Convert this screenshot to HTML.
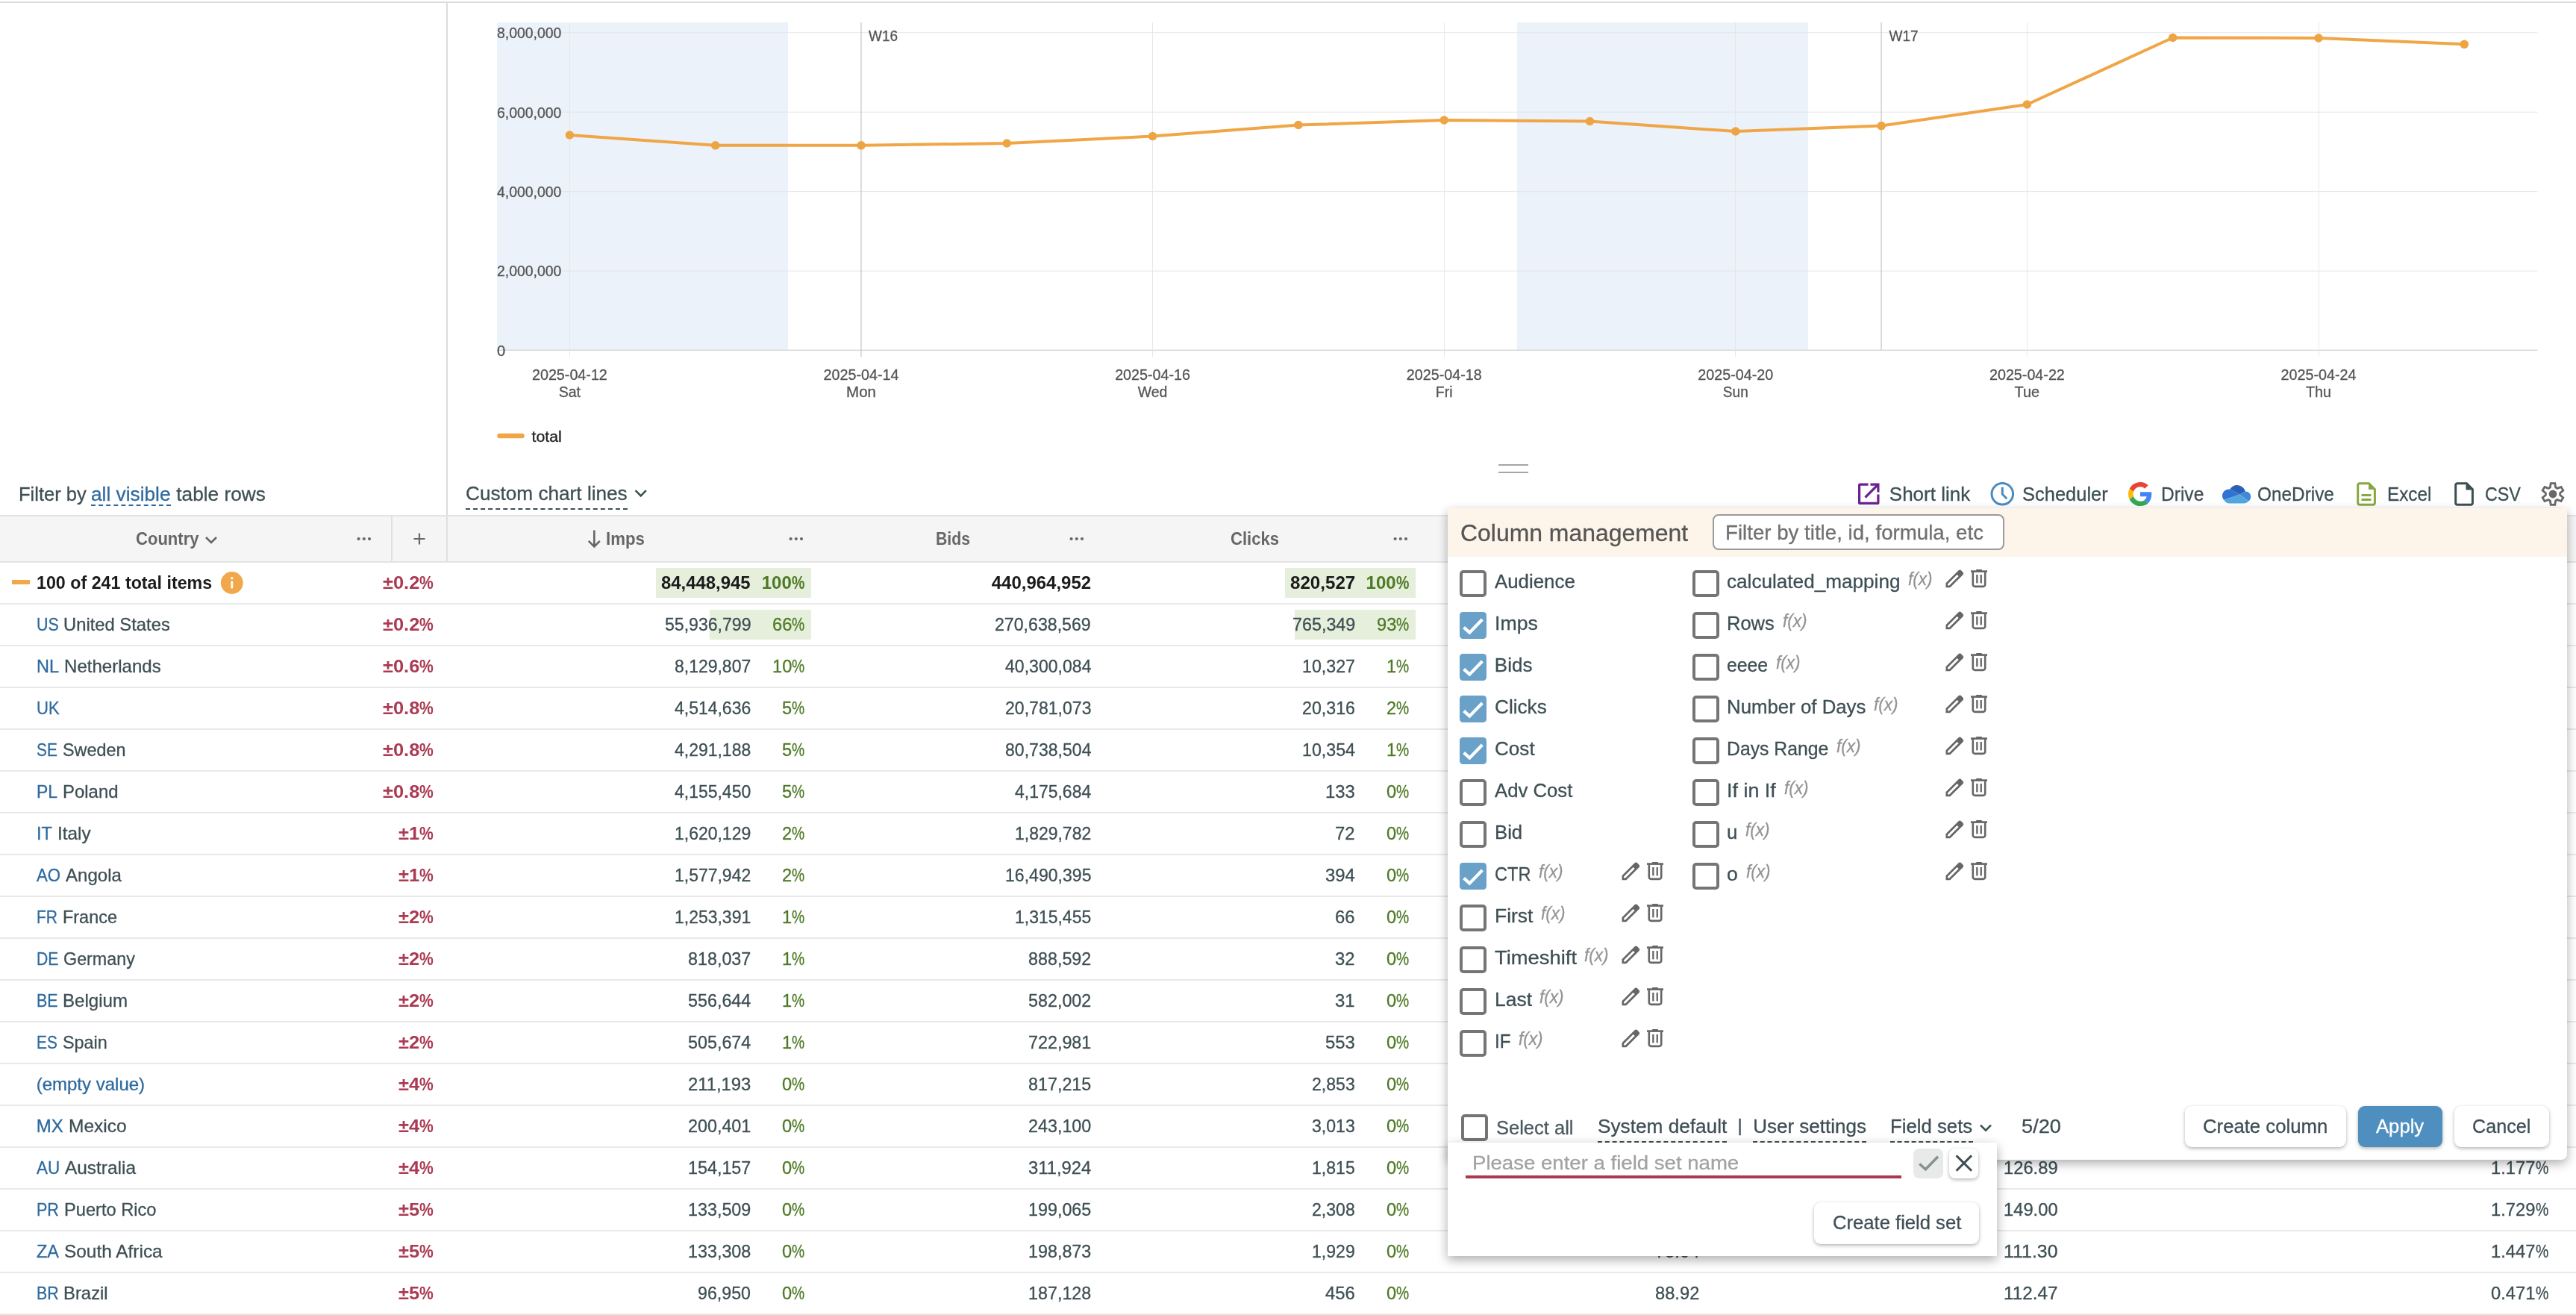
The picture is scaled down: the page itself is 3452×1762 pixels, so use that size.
<!DOCTYPE html>
<html lang="en"><head><meta charset="utf-8"><title>Report</title>
<style>
html,body{margin:0;padding:0;background:#fff}
body{width:3452px;height:1762px;position:relative;overflow:hidden;font-family:"Liberation Sans",sans-serif}
#w{position:absolute;left:0;top:0;width:3452px;height:1762px;will-change:transform}
.abs{position:absolute;display:block;box-sizing:content-box}
.t{position:absolute;white-space:pre;line-height:1;transform-origin:0 50%}
</style></head><body><div id="w">
<svg class="abs" style="left:0;top:0" width="3452" height="640" viewBox="0 0 3452 640" font-family="Liberation Sans, sans-serif">
<rect x="666" y="30" width="390" height="439" fill="#ebf2fa"/>
<rect x="2033" y="30" width="390" height="439" fill="#ebf2fa"/>
<rect x="666" y="43.20" width="2734.5" height="1.1" fill="#e2e5e8" opacity="0.9"/>
<rect x="666" y="149.70" width="2734.5" height="1.1" fill="#e2e5e8" opacity="0.9"/>
<rect x="666" y="256.05" width="2734.5" height="1.1" fill="#e2e5e8" opacity="0.9"/>
<rect x="666" y="362.55" width="2734.5" height="1.1" fill="#e2e5e8" opacity="0.9"/>
<rect x="666" y="468.6" width="2734.5" height="1.3" fill="#d3d4d6"/>
<rect x="763" y="30" width="1" height="448" fill="#e2e5e8" opacity="0.85"/>
<rect x="1544" y="30" width="1" height="448" fill="#e2e5e8" opacity="0.85"/>
<rect x="1935" y="30" width="1" height="448" fill="#e2e5e8" opacity="0.85"/>
<rect x="2325" y="30" width="1" height="448" fill="#e2e5e8" opacity="0.85"/>
<rect x="2716" y="30" width="1" height="448" fill="#e2e5e8" opacity="0.85"/>
<rect x="3107" y="30" width="1" height="448" fill="#e2e5e8" opacity="0.85"/>
<rect x="1153.35" y="30" width="1.2" height="448" fill="#c4c4c4"/>
<rect x="2520.45" y="30" width="1.2" height="439" fill="#c4c4c4"/>
<text x="666" y="51.0" font-size="20" fill="#545556" stroke="#545556" stroke-width="0.3" textLength="86.4" lengthAdjust="spacingAndGlyphs">8,000,000</text>
<text x="666" y="157.6" font-size="20" fill="#545556" stroke="#545556" stroke-width="0.3" textLength="86.4" lengthAdjust="spacingAndGlyphs">6,000,000</text>
<text x="666" y="263.9" font-size="20" fill="#545556" stroke="#545556" stroke-width="0.3" textLength="86.4" lengthAdjust="spacingAndGlyphs">4,000,000</text>
<text x="666" y="370.4" font-size="20" fill="#545556" stroke="#545556" stroke-width="0.3" textLength="86.4" lengthAdjust="spacingAndGlyphs">2,000,000</text>
<text x="666" y="476.6" font-size="20" fill="#545556" stroke="#545556" stroke-width="0.3" textLength="11.2" lengthAdjust="spacingAndGlyphs">0</text>
<text x="763.4" y="508.7" font-size="20" fill="#545556" stroke="#545556" stroke-width="0.3" text-anchor="middle" textLength="100.9" lengthAdjust="spacingAndGlyphs">2025-04-12</text>
<text x="763.4" y="532" font-size="20" fill="#545556" stroke="#545556" stroke-width="0.3" text-anchor="middle" textLength="29.3" lengthAdjust="spacingAndGlyphs">Sat</text>
<text x="1154.0" y="508.7" font-size="20" fill="#545556" stroke="#545556" stroke-width="0.3" text-anchor="middle" textLength="100.9" lengthAdjust="spacingAndGlyphs">2025-04-14</text>
<text x="1154.0" y="532" font-size="20" fill="#545556" stroke="#545556" stroke-width="0.3" text-anchor="middle" textLength="39.9" lengthAdjust="spacingAndGlyphs">Mon</text>
<text x="1544.6" y="508.7" font-size="20" fill="#545556" stroke="#545556" stroke-width="0.3" text-anchor="middle" textLength="100.9" lengthAdjust="spacingAndGlyphs">2025-04-16</text>
<text x="1544.6" y="532" font-size="20" fill="#545556" stroke="#545556" stroke-width="0.3" text-anchor="middle" textLength="39.6" lengthAdjust="spacingAndGlyphs">Wed</text>
<text x="1935.2" y="508.7" font-size="20" fill="#545556" stroke="#545556" stroke-width="0.3" text-anchor="middle" textLength="100.9" lengthAdjust="spacingAndGlyphs">2025-04-18</text>
<text x="1935.2" y="532" font-size="20" fill="#545556" stroke="#545556" stroke-width="0.3" text-anchor="middle" textLength="22.7" lengthAdjust="spacingAndGlyphs">Fri</text>
<text x="2325.8" y="508.7" font-size="20" fill="#545556" stroke="#545556" stroke-width="0.3" text-anchor="middle" textLength="100.9" lengthAdjust="spacingAndGlyphs">2025-04-20</text>
<text x="2325.8" y="532" font-size="20" fill="#545556" stroke="#545556" stroke-width="0.3" text-anchor="middle" textLength="33.9" lengthAdjust="spacingAndGlyphs">Sun</text>
<text x="2716.4" y="508.7" font-size="20" fill="#545556" stroke="#545556" stroke-width="0.3" text-anchor="middle" textLength="100.9" lengthAdjust="spacingAndGlyphs">2025-04-22</text>
<text x="2716.4" y="532" font-size="20" fill="#545556" stroke="#545556" stroke-width="0.3" text-anchor="middle" textLength="33.6" lengthAdjust="spacingAndGlyphs">Tue</text>
<text x="3107.0" y="508.7" font-size="20" fill="#545556" stroke="#545556" stroke-width="0.3" text-anchor="middle" textLength="100.9" lengthAdjust="spacingAndGlyphs">2025-04-24</text>
<text x="3107.0" y="532" font-size="20" fill="#545556" stroke="#545556" stroke-width="0.3" text-anchor="middle" textLength="34.0" lengthAdjust="spacingAndGlyphs">Thu</text>
<text x="1164" y="54.6" font-size="20" fill="#545556" stroke="#545556" stroke-width="0.3" textLength="39" lengthAdjust="spacingAndGlyphs">W16</text>
<text x="2531.5" y="54.6" font-size="20" fill="#545556" stroke="#545556" stroke-width="0.3" textLength="39" lengthAdjust="spacingAndGlyphs">W17</text>
<polyline fill="none" stroke="#f0a646" stroke-width="4" stroke-linejoin="round" stroke-linecap="round" points="763.4,181.0 958.7,194.8 1154.0,194.8 1349.3,192.0 1544.6,182.5 1739.9,167.5 1935.2,161.0 2130.5,162.5 2325.8,176.0 2521.1,168.6 2716.4,140.0 2911.7,50.5 3107.0,51.0 3302.3,59.3"/>
<circle cx="763.4" cy="181.0" r="5.8" fill="#eda544"/>
<circle cx="958.7" cy="194.8" r="5.8" fill="#eda544"/>
<circle cx="1154.0" cy="194.8" r="5.8" fill="#eda544"/>
<circle cx="1349.3" cy="192.0" r="5.8" fill="#eda544"/>
<circle cx="1544.6" cy="182.5" r="5.8" fill="#eda544"/>
<circle cx="1739.9" cy="167.5" r="5.8" fill="#eda544"/>
<circle cx="1935.2" cy="161.0" r="5.8" fill="#eda544"/>
<circle cx="2130.5" cy="162.5" r="5.8" fill="#eda544"/>
<circle cx="2325.8" cy="176.0" r="5.8" fill="#eda544"/>
<circle cx="2521.1" cy="168.6" r="5.8" fill="#eda544"/>
<circle cx="2716.4" cy="140.0" r="5.8" fill="#eda544"/>
<circle cx="2911.7" cy="50.5" r="5.8" fill="#eda544"/>
<circle cx="3107.0" cy="51.0" r="5.8" fill="#eda544"/>
<circle cx="3302.3" cy="59.3" r="5.8" fill="#eda544"/>
<line x1="669.5" y1="584" x2="699.5" y2="584" stroke="#f0a646" stroke-width="6.5" stroke-linecap="round"/>
<text x="712.5" y="591.6" font-size="20" fill="#222" stroke="#222" stroke-width="0.3" textLength="40.2" lengthAdjust="spacingAndGlyphs">total</text>
<rect x="2008" y="622.2" width="40" height="1.6" fill="#8f8f8f"/><rect x="2008" y="632.2" width="40" height="1.6" fill="#8f8f8f"/>
</svg>
<div class="abs" style="left:0;top:2px;width:3452px;height:2px;background:#dcdcdd"></div>
<div class="abs" style="left:598px;top:4px;width:2px;height:687px;background:#dcdcdd"></div>
<div class="t" style="left:24.50px;top:649.19px;font-size:26px;color:#3e4f54;-webkit-text-stroke:0.3px;transform:scaleX(0.9815);">Filter by </div>
<div class="t" style="left:122.34px;top:649.19px;font-size:26px;color:#2e6a9e;-webkit-text-stroke:0.3px;transform:scaleX(1.0099);">all visible</div>
<div class="abs" style="left:122.3px;top:676px;width:106.5px;height:0;border-top:2px dashed #2e6a9e"></div>
<div class="t" style="left:228.88px;top:649.19px;font-size:26px;color:#3e4f54;-webkit-text-stroke:0.3px;transform:scaleX(1.0082);"> table rows</div>
<div class="t" style="left:624.30px;top:647.79px;font-size:26px;color:#3e4f54;-webkit-text-stroke:0.3px;transform:scaleX(1.0065);">Custom chart lines</div>
<div class="abs" style="left:624.3px;top:680.5px;width:216.7px;height:0;border-top:2px dashed #3e4f54"></div>
<svg class="abs" style="left:849px;top:652px" width="20" height="18" viewBox="0 0 20 18"><path d="M2.6 5.2 L9.7 12.3 L16.8 5.2" fill="none" stroke="#3e4f54" stroke-width="2.6"/></svg>
<div class="t" style="left:2531.80px;top:648.79px;font-size:26px;color:#3e4f54;-webkit-text-stroke:0.3px;">Short link</div>
<div class="t" style="left:2710.30px;top:648.79px;font-size:26px;color:#3e4f54;-webkit-text-stroke:0.3px;transform:scaleX(0.9797);">Scheduler</div>
<div class="t" style="left:2895.70px;top:648.79px;font-size:26px;color:#3e4f54;-webkit-text-stroke:0.3px;transform:scaleX(0.9444);">Drive</div>
<div class="t" style="left:3024.60px;top:648.79px;font-size:26px;color:#3e4f54;-webkit-text-stroke:0.3px;transform:scaleX(0.9370);">OneDrive</div>
<div class="t" style="left:3199.00px;top:648.79px;font-size:26px;color:#3e4f54;-webkit-text-stroke:0.3px;transform:scaleX(0.9327);">Excel</div>
<div class="t" style="left:3329.80px;top:648.79px;font-size:26px;color:#3e4f54;-webkit-text-stroke:0.3px;transform:scaleX(0.8960);">CSV</div>
<svg class="abs" style="left:2488px;top:645px" width="34" height="34" viewBox="0 0 34 34"><path d="M15.5 4.1 H4.6 a1 1 0 0 0 -1 1 V28.4 a1 1 0 0 0 1 1 H27.9 a1 1 0 0 0 1 -1 V17.5" fill="none" stroke="#6b2394" stroke-width="3.2"/><path d="M11.5 21.5 L28.6 4.4 M18.5 4.1 H28.9 V14.5" fill="none" stroke="#6b2394" stroke-width="3.2"/></svg>
<svg class="abs" style="left:2665px;top:643px" width="37" height="37" viewBox="0 0 37 37"><circle cx="18.3" cy="18.8" r="14.3" fill="none" stroke="#4a8cc0" stroke-width="3"/><path d="M18.3 9.8 V19.2 L24.3 25.2" fill="none" stroke="#4a8cc0" stroke-width="3"/></svg>
<svg class="abs" style="left:2852px;top:646px" width="32" height="32" viewBox="0 0 48 48"><path fill="#EA4335" d="M24 9.5c3.54 0 6.71 1.22 9.21 3.6l6.85-6.85C35.9 2.38 30.47 0 24 0 14.62 0 6.51 5.38 2.56 13.22l7.98 6.19C12.43 13.72 17.74 9.5 24 9.5z"/><path fill="#4285F4" d="M46.98 24.55c0-1.57-.15-3.09-.38-4.55H24v9.02h12.94c-.58 2.96-2.26 5.48-4.78 7.18l7.73 6c4.51-4.18 7.09-10.36 7.09-17.65z"/><path fill="#FBBC05" d="M10.53 28.59c-.48-1.45-.76-2.99-.76-4.59s.27-3.14.76-4.59l-7.98-6.19C.92 16.46 0 20.12 0 24c0 3.88.92 7.54 2.56 10.78l7.97-6.19z"/><path fill="#34A853" d="M24 48c6.48 0 11.93-2.13 15.89-5.81l-7.73-6c-2.15 1.45-4.92 2.3-8.16 2.3-6.26 0-11.57-4.22-13.47-9.91l-7.98 6.19C6.51 42.62 14.62 48 24 48z"/></svg>
<svg class="abs" style="left:2977.6px;top:649.6px" width="39" height="25" viewBox="0 0 39 25"><path d="M10.2 5.6 C12.5 2 16 0 19.6 0 C25 0 29.5 3.5 30.8 8.6 L23.3 12.6 Z" fill="#2a60b5"/><path d="M10.2 5.6 C4.5 5.0 0.2 9.0 0 14.0 C-0.1 16.2 0.7 18.3 2.2 19.9 L23.3 12.4 L10.2 5.6 Z" fill="#2f74d0"/><path d="M30.8 8.6 C34.8 8.3 38.2 11.5 38.2 15.5 C38.2 18 37 20.2 35.2 21.6 L23.3 12.4 Z" fill="#3f8ad8"/><path d="M2.2 19.9 L23.3 12.4 L35.2 21.6 C33.8 23.4 31.8 24.4 29.5 24.4 H9.5 C6.5 24.4 3.8 22.6 2.2 19.9 Z" fill="#52a5e0"/></svg>
<svg class="abs" style="left:3157px;top:645px" width="28" height="34" viewBox="0 0 28 34"><path d="M5 2.7 H17.5 L25.4 10.6 V29 a2.3 2.3 0 0 1 -2.3 2.3 H5 a2.3 2.3 0 0 1 -2.3 -2.3 V5 a2.3 2.3 0 0 1 2.3 -2.3 Z" fill="none" stroke="#86a840" stroke-width="3"/><path d="M17 2 V11 H26 Z" fill="#86a840"/><rect x="7.5" y="17" width="13" height="3" fill="#86a840"/><rect x="7.5" y="23" width="13" height="3" fill="#86a840"/></svg>
<svg class="abs" style="left:3288px;top:645px" width="28" height="34" viewBox="0 0 28 34"><path d="M5 2.7 H17.5 L25.4 10.6 V29 a2.3 2.3 0 0 1 -2.3 2.3 H5 a2.3 2.3 0 0 1 -2.3 -2.3 V5 a2.3 2.3 0 0 1 2.3 -2.3 Z" fill="none" stroke="#3e4f54" stroke-width="3"/><path d="M16.5 2 V11.5 H26 Z" fill="#3e4f54"/></svg>
<svg class="abs" style="left:3404px;top:645px" width="34" height="34" viewBox="0 0 34 34"><path d="M13.37 8.01 L14.21 2.67 L19.79 2.67 L20.63 8.01 L22.97 9.36 L28.02 7.42 L30.80 12.25 L26.61 15.65 L26.61 18.35 L30.80 21.75 L28.02 26.58 L22.97 24.64 L20.63 25.99 L19.79 31.33 L14.21 31.33 L13.37 25.99 L11.03 24.64 L5.98 26.58 L3.20 21.75 L7.39 18.35 L7.39 15.65 L3.20 12.25 L5.98 7.42 L11.03 9.36 Z" fill="none" stroke="#686868" stroke-width="2.8" stroke-linejoin="miter"/><circle cx="17" cy="17" r="5.4" fill="#686868"/></svg>
<div class="abs" style="left:0;top:690px;width:3452px;height:60px;background:#f5f5f5;border-top:2px solid #e3e3e3;border-bottom:2px solid #e3e3e3"></div>
<div class="abs" style="left:524px;top:692px;width:2px;height:60px;background:#e0e0e0"></div>
<div class="abs" style="left:598px;top:692px;width:2px;height:60px;background:#e0e0e0"></div>
<div class="t" style="left:181.80px;top:710.18px;font-size:24px;color:#666;font-weight:700;transform:scaleX(0.9185);">Country</div>
<div class="t" style="left:811.80px;top:710.18px;font-size:24px;color:#666;font-weight:700;transform:scaleX(0.9247);">Imps</div>
<div class="t" style="left:1253.60px;top:710.18px;font-size:24px;color:#666;font-weight:700;transform:scaleX(0.8845);">Bids</div>
<div class="t" style="left:1649.00px;top:710.18px;font-size:24px;color:#666;font-weight:700;transform:scaleX(0.9192);">Clicks</div>
<svg class="abs" style="left:478.4px;top:718px" width="24" height="8" viewBox="0 0 24 8"><circle cx="2.6" cy="4" r="2.1" fill="#666"/><circle cx="9.8" cy="4" r="2.1" fill="#666"/><circle cx="17" cy="4" r="2.1" fill="#666"/></svg>
<svg class="abs" style="left:1056.6px;top:718px" width="24" height="8" viewBox="0 0 24 8"><circle cx="2.6" cy="4" r="2.1" fill="#666"/><circle cx="9.8" cy="4" r="2.1" fill="#666"/><circle cx="17" cy="4" r="2.1" fill="#666"/></svg>
<svg class="abs" style="left:1432.6px;top:718px" width="24" height="8" viewBox="0 0 24 8"><circle cx="2.6" cy="4" r="2.1" fill="#666"/><circle cx="9.8" cy="4" r="2.1" fill="#666"/><circle cx="17" cy="4" r="2.1" fill="#666"/></svg>
<svg class="abs" style="left:1867px;top:718px" width="24" height="8" viewBox="0 0 24 8"><circle cx="2.6" cy="4" r="2.1" fill="#666"/><circle cx="9.8" cy="4" r="2.1" fill="#666"/><circle cx="17" cy="4" r="2.1" fill="#666"/></svg>
<svg class="abs" style="left:273px;top:714px" width="20" height="18" viewBox="0 0 20 18"><path d="M3 6 L10 13 L17 6" fill="none" stroke="#666" stroke-width="2.6"/></svg>
<svg class="abs" style="left:552px;top:712px" width="20" height="20" viewBox="0 0 20 20"><path d="M10 2.5 V17.5 M2.5 10 H17.5" fill="none" stroke="#666" stroke-width="2.2"/></svg>
<svg class="abs" style="left:786px;top:708px" width="20" height="28" viewBox="0 0 20 28"><path d="M10.3 2.5 V24 M2.8 16.8 L10.3 24.3 L17.8 16.8" fill="none" stroke="#666" stroke-width="2.6"/></svg>
<div class="abs" style="left:0;top:808px;width:3452px;height:2px;background:#e9e9ea"></div>
<div class="abs" style="left:16px;top:777px;width:24px;height:6px;background:#f0a84a"></div>
<div class="t" style="left:48.70px;top:768.98px;font-size:24px;color:#1b1b1b;font-weight:700;transform:scaleX(0.9688);">100 of 241 total items</div>
<svg class="abs" style="left:295px;top:765px" width="32" height="32" viewBox="0 0 32 32"><circle cx="15.8" cy="16" r="14.9" fill="#f0a84a"/><circle cx="15.8" cy="9.7" r="1.65" fill="#fff"/><rect x="14.4" y="13.6" width="2.8" height="9.8" fill="#fff"/></svg>
<div class="abs" style="left:879px;top:761px;width:208px;height:39.5px;background:#e6eedc"></div>
<div class="abs" style="left:1722px;top:761px;width:175px;height:39.5px;background:#e6eedc"></div>
<div class="t" style="left:512.87px;top:768.98px;font-size:24px;color:#ab3a52;font-weight:700;transform:scaleX(1.0601);">±0.2</div>
<div class="t" style="left:562.20px;top:768.98px;font-size:24px;color:#ab3a52;font-weight:700;transform:scaleX(0.8809);">%</div>
<div class="t" style="left:886.44px;top:768.98px;font-size:24px;color:#1b1b1b;font-weight:700;transform:scaleX(0.9953);">84,448,945</div>
<div class="t" style="left:1020.78px;top:768.98px;font-size:24px;color:#4e7a25;font-weight:700;">100</div>
<div class="t" style="left:1060.81px;top:768.98px;font-size:24px;color:#4e7a25;font-weight:700;transform:scaleX(0.8150);">%</div>
<div class="t" style="left:1328.69px;top:768.98px;font-size:24px;color:#1b1b1b;font-weight:700;">440,964,952</div>
<div class="t" style="left:1728.73px;top:768.98px;font-size:24px;color:#1b1b1b;font-weight:700;transform:scaleX(1.0059);">820,527</div>
<div class="t" style="left:1830.58px;top:768.98px;font-size:24px;color:#4e7a25;font-weight:700;">100</div>
<div class="t" style="left:1870.61px;top:768.98px;font-size:24px;color:#4e7a25;font-weight:700;transform:scaleX(0.8150);">%</div>
<div class="abs" style="left:0;top:864px;width:3452px;height:2px;background:#e9e9ea"></div>
<div class="t" style="left:48.70px;top:824.98px;font-size:24px;color:#2e6a9e;-webkit-text-stroke:0.3px;transform:scaleX(0.8933);">US</div>
<div class="t" style="left:85.43px;top:824.98px;font-size:24px;color:#3e4f54;-webkit-text-stroke:0.3px;transform:scaleX(0.9909);">United States</div>
<div class="abs" style="left:951px;top:817px;width:136px;height:39.5px;background:#e6eedc"></div>
<div class="abs" style="left:1735px;top:817px;width:162px;height:39.5px;background:#e6eedc"></div>
<div class="t" style="left:512.87px;top:824.98px;font-size:24px;color:#ab3a52;font-weight:700;transform:scaleX(1.0601);">±0.2</div>
<div class="t" style="left:562.20px;top:824.98px;font-size:24px;color:#ab3a52;font-weight:700;transform:scaleX(0.8809);">%</div>
<div class="t" style="left:890.54px;top:824.98px;font-size:24px;color:#3e4f54;-webkit-text-stroke:0.3px;transform:scaleX(0.9612);">55,936,799</div>
<div class="t" style="left:1034.79px;top:824.98px;font-size:24px;color:#4e7a25;-webkit-text-stroke:0.3px;transform:scaleX(0.9843);">66</div>
<div class="t" style="left:1061.07px;top:824.98px;font-size:24px;color:#4e7a25;-webkit-text-stroke:0.3px;transform:scaleX(0.8027);">%</div>
<div class="t" style="left:1333.27px;top:824.98px;font-size:24px;color:#3e4f54;-webkit-text-stroke:0.3px;transform:scaleX(0.9645);">270,638,569</div>
<div class="t" style="left:1731.72px;top:824.98px;font-size:24px;color:#3e4f54;-webkit-text-stroke:0.3px;transform:scaleX(0.9714);">765,349</div>
<div class="t" style="left:1844.59px;top:824.98px;font-size:24px;color:#4e7a25;-webkit-text-stroke:0.3px;transform:scaleX(0.9843);">93</div>
<div class="t" style="left:1870.87px;top:824.98px;font-size:24px;color:#4e7a25;-webkit-text-stroke:0.3px;transform:scaleX(0.8027);">%</div>
<div class="abs" style="left:0;top:920px;width:3452px;height:2px;background:#e9e9ea"></div>
<div class="t" style="left:48.70px;top:880.98px;font-size:24px;color:#2e6a9e;-webkit-text-stroke:0.3px;transform:scaleX(0.9786);">NL</div>
<div class="t" style="left:85.67px;top:880.98px;font-size:24px;color:#3e4f54;-webkit-text-stroke:0.3px;transform:scaleX(1.0029);">Netherlands</div>
<div class="t" style="left:512.87px;top:880.98px;font-size:24px;color:#ab3a52;font-weight:700;transform:scaleX(1.0601);">±0.6</div>
<div class="t" style="left:562.20px;top:880.98px;font-size:24px;color:#ab3a52;font-weight:700;transform:scaleX(0.8809);">%</div>
<div class="t" style="left:903.82px;top:880.98px;font-size:24px;color:#3e4f54;-webkit-text-stroke:0.3px;transform:scaleX(0.9570);">8,129,807</div>
<div class="t" style="left:1034.79px;top:880.98px;font-size:24px;color:#4e7a25;-webkit-text-stroke:0.3px;transform:scaleX(0.9843);">10</div>
<div class="t" style="left:1061.07px;top:880.98px;font-size:24px;color:#4e7a25;-webkit-text-stroke:0.3px;transform:scaleX(0.8027);">%</div>
<div class="t" style="left:1346.54px;top:880.98px;font-size:24px;color:#3e4f54;-webkit-text-stroke:0.3px;transform:scaleX(0.9612);">40,300,084</div>
<div class="t" style="left:1745.00px;top:880.98px;font-size:24px;color:#3e4f54;-webkit-text-stroke:0.3px;transform:scaleX(0.9672);">10,327</div>
<div class="t" style="left:1857.73px;top:880.98px;font-size:24px;color:#4e7a25;-webkit-text-stroke:0.3px;transform:scaleX(0.9843);">1</div>
<div class="t" style="left:1870.87px;top:880.98px;font-size:24px;color:#4e7a25;-webkit-text-stroke:0.3px;transform:scaleX(0.8027);">%</div>
<div class="abs" style="left:0;top:976px;width:3452px;height:2px;background:#e9e9ea"></div>
<div class="t" style="left:48.70px;top:936.98px;font-size:24px;color:#2e6a9e;-webkit-text-stroke:0.3px;transform:scaleX(0.9178);">UK</div>
<div class="t" style="left:512.87px;top:936.98px;font-size:24px;color:#ab3a52;font-weight:700;transform:scaleX(1.0601);">±0.8</div>
<div class="t" style="left:562.20px;top:936.98px;font-size:24px;color:#ab3a52;font-weight:700;transform:scaleX(0.8809);">%</div>
<div class="t" style="left:903.82px;top:936.98px;font-size:24px;color:#3e4f54;-webkit-text-stroke:0.3px;transform:scaleX(0.9570);">4,514,636</div>
<div class="t" style="left:1047.93px;top:936.98px;font-size:24px;color:#4e7a25;-webkit-text-stroke:0.3px;transform:scaleX(0.9843);">5</div>
<div class="t" style="left:1061.07px;top:936.98px;font-size:24px;color:#4e7a25;-webkit-text-stroke:0.3px;transform:scaleX(0.8027);">%</div>
<div class="t" style="left:1346.54px;top:936.98px;font-size:24px;color:#3e4f54;-webkit-text-stroke:0.3px;transform:scaleX(0.9612);">20,781,073</div>
<div class="t" style="left:1745.00px;top:936.98px;font-size:24px;color:#3e4f54;-webkit-text-stroke:0.3px;transform:scaleX(0.9672);">20,316</div>
<div class="t" style="left:1857.73px;top:936.98px;font-size:24px;color:#4e7a25;-webkit-text-stroke:0.3px;transform:scaleX(0.9843);">2</div>
<div class="t" style="left:1870.87px;top:936.98px;font-size:24px;color:#4e7a25;-webkit-text-stroke:0.3px;transform:scaleX(0.8027);">%</div>
<div class="abs" style="left:0;top:1032px;width:3452px;height:2px;background:#e9e9ea"></div>
<div class="t" style="left:48.70px;top:992.98px;font-size:24px;color:#2e6a9e;-webkit-text-stroke:0.3px;transform:scaleX(0.8703);">SE</div>
<div class="t" style="left:83.51px;top:992.98px;font-size:24px;color:#3e4f54;-webkit-text-stroke:0.3px;transform:scaleX(0.9740);">Sweden</div>
<div class="t" style="left:512.87px;top:992.98px;font-size:24px;color:#ab3a52;font-weight:700;transform:scaleX(1.0601);">±0.8</div>
<div class="t" style="left:562.20px;top:992.98px;font-size:24px;color:#ab3a52;font-weight:700;transform:scaleX(0.8809);">%</div>
<div class="t" style="left:903.82px;top:992.98px;font-size:24px;color:#3e4f54;-webkit-text-stroke:0.3px;transform:scaleX(0.9570);">4,291,188</div>
<div class="t" style="left:1047.93px;top:992.98px;font-size:24px;color:#4e7a25;-webkit-text-stroke:0.3px;transform:scaleX(0.9843);">5</div>
<div class="t" style="left:1061.07px;top:992.98px;font-size:24px;color:#4e7a25;-webkit-text-stroke:0.3px;transform:scaleX(0.8027);">%</div>
<div class="t" style="left:1346.54px;top:992.98px;font-size:24px;color:#3e4f54;-webkit-text-stroke:0.3px;transform:scaleX(0.9612);">80,738,504</div>
<div class="t" style="left:1745.00px;top:992.98px;font-size:24px;color:#3e4f54;-webkit-text-stroke:0.3px;transform:scaleX(0.9672);">10,354</div>
<div class="t" style="left:1857.73px;top:992.98px;font-size:24px;color:#4e7a25;-webkit-text-stroke:0.3px;transform:scaleX(0.9843);">1</div>
<div class="t" style="left:1870.87px;top:992.98px;font-size:24px;color:#4e7a25;-webkit-text-stroke:0.3px;transform:scaleX(0.8027);">%</div>
<div class="abs" style="left:0;top:1088px;width:3452px;height:2px;background:#e9e9ea"></div>
<div class="t" style="left:48.70px;top:1048.98px;font-size:24px;color:#2e6a9e;-webkit-text-stroke:0.3px;transform:scaleX(0.9557);">PL</div>
<div class="t" style="left:83.70px;top:1048.98px;font-size:24px;color:#3e4f54;-webkit-text-stroke:0.3px;transform:scaleX(0.9968);">Poland</div>
<div class="t" style="left:512.87px;top:1048.98px;font-size:24px;color:#ab3a52;font-weight:700;transform:scaleX(1.0601);">±0.8</div>
<div class="t" style="left:562.20px;top:1048.98px;font-size:24px;color:#ab3a52;font-weight:700;transform:scaleX(0.8809);">%</div>
<div class="t" style="left:903.82px;top:1048.98px;font-size:24px;color:#3e4f54;-webkit-text-stroke:0.3px;transform:scaleX(0.9570);">4,155,450</div>
<div class="t" style="left:1047.93px;top:1048.98px;font-size:24px;color:#4e7a25;-webkit-text-stroke:0.3px;transform:scaleX(0.9843);">5</div>
<div class="t" style="left:1061.07px;top:1048.98px;font-size:24px;color:#4e7a25;-webkit-text-stroke:0.3px;transform:scaleX(0.8027);">%</div>
<div class="t" style="left:1359.82px;top:1048.98px;font-size:24px;color:#3e4f54;-webkit-text-stroke:0.3px;transform:scaleX(0.9570);">4,175,684</div>
<div class="t" style="left:1776.18px;top:1048.98px;font-size:24px;color:#3e4f54;-webkit-text-stroke:0.3px;transform:scaleX(0.9944);">133</div>
<div class="t" style="left:1857.73px;top:1048.98px;font-size:24px;color:#4e7a25;-webkit-text-stroke:0.3px;transform:scaleX(0.9843);">0</div>
<div class="t" style="left:1870.87px;top:1048.98px;font-size:24px;color:#4e7a25;-webkit-text-stroke:0.3px;transform:scaleX(0.8027);">%</div>
<div class="abs" style="left:0;top:1144px;width:3452px;height:2px;background:#e9e9ea"></div>
<div class="t" style="left:48.70px;top:1104.98px;font-size:24px;color:#2e6a9e;-webkit-text-stroke:0.3px;transform:scaleX(0.9779);">IT</div>
<div class="t" style="left:76.50px;top:1104.98px;font-size:24px;color:#3e4f54;-webkit-text-stroke:0.3px;transform:scaleX(1.0136);">Italy</div>
<div class="t" style="left:534.04px;top:1104.98px;font-size:24px;color:#ab3a52;font-weight:700;transform:scaleX(1.0618);">±1</div>
<div class="t" style="left:562.20px;top:1104.98px;font-size:24px;color:#ab3a52;font-weight:700;transform:scaleX(0.8809);">%</div>
<div class="t" style="left:903.82px;top:1104.98px;font-size:24px;color:#3e4f54;-webkit-text-stroke:0.3px;transform:scaleX(0.9570);">1,620,129</div>
<div class="t" style="left:1047.93px;top:1104.98px;font-size:24px;color:#4e7a25;-webkit-text-stroke:0.3px;transform:scaleX(0.9843);">2</div>
<div class="t" style="left:1061.07px;top:1104.98px;font-size:24px;color:#4e7a25;-webkit-text-stroke:0.3px;transform:scaleX(0.8027);">%</div>
<div class="t" style="left:1359.82px;top:1104.98px;font-size:24px;color:#3e4f54;-webkit-text-stroke:0.3px;transform:scaleX(0.9570);">1,829,782</div>
<div class="t" style="left:1789.45px;top:1104.98px;font-size:24px;color:#3e4f54;-webkit-text-stroke:0.3px;transform:scaleX(0.9944);">72</div>
<div class="t" style="left:1857.73px;top:1104.98px;font-size:24px;color:#4e7a25;-webkit-text-stroke:0.3px;transform:scaleX(0.9843);">0</div>
<div class="t" style="left:1870.87px;top:1104.98px;font-size:24px;color:#4e7a25;-webkit-text-stroke:0.3px;transform:scaleX(0.8027);">%</div>
<div class="abs" style="left:0;top:1200px;width:3452px;height:2px;background:#e9e9ea"></div>
<div class="t" style="left:48.70px;top:1160.98px;font-size:24px;color:#2e6a9e;-webkit-text-stroke:0.3px;transform:scaleX(0.9271);">AO</div>
<div class="t" style="left:87.79px;top:1160.98px;font-size:24px;color:#3e4f54;-webkit-text-stroke:0.3px;transform:scaleX(1.0026);">Angola</div>
<div class="t" style="left:534.04px;top:1160.98px;font-size:24px;color:#ab3a52;font-weight:700;transform:scaleX(1.0618);">±1</div>
<div class="t" style="left:562.20px;top:1160.98px;font-size:24px;color:#ab3a52;font-weight:700;transform:scaleX(0.8809);">%</div>
<div class="t" style="left:903.82px;top:1160.98px;font-size:24px;color:#3e4f54;-webkit-text-stroke:0.3px;transform:scaleX(0.9570);">1,577,942</div>
<div class="t" style="left:1047.93px;top:1160.98px;font-size:24px;color:#4e7a25;-webkit-text-stroke:0.3px;transform:scaleX(0.9843);">2</div>
<div class="t" style="left:1061.07px;top:1160.98px;font-size:24px;color:#4e7a25;-webkit-text-stroke:0.3px;transform:scaleX(0.8027);">%</div>
<div class="t" style="left:1346.54px;top:1160.98px;font-size:24px;color:#3e4f54;-webkit-text-stroke:0.3px;transform:scaleX(0.9612);">16,490,395</div>
<div class="t" style="left:1776.18px;top:1160.98px;font-size:24px;color:#3e4f54;-webkit-text-stroke:0.3px;transform:scaleX(0.9944);">394</div>
<div class="t" style="left:1857.73px;top:1160.98px;font-size:24px;color:#4e7a25;-webkit-text-stroke:0.3px;transform:scaleX(0.9843);">0</div>
<div class="t" style="left:1870.87px;top:1160.98px;font-size:24px;color:#4e7a25;-webkit-text-stroke:0.3px;transform:scaleX(0.8027);">%</div>
<div class="abs" style="left:0;top:1256px;width:3452px;height:2px;background:#e9e9ea"></div>
<div class="t" style="left:48.70px;top:1216.98px;font-size:24px;color:#2e6a9e;-webkit-text-stroke:0.3px;transform:scaleX(0.8769);">FR</div>
<div class="t" style="left:83.70px;top:1216.98px;font-size:24px;color:#3e4f54;-webkit-text-stroke:0.3px;transform:scaleX(0.9767);">France</div>
<div class="t" style="left:534.04px;top:1216.98px;font-size:24px;color:#ab3a52;font-weight:700;transform:scaleX(1.0618);">±2</div>
<div class="t" style="left:562.20px;top:1216.98px;font-size:24px;color:#ab3a52;font-weight:700;transform:scaleX(0.8809);">%</div>
<div class="t" style="left:903.82px;top:1216.98px;font-size:24px;color:#3e4f54;-webkit-text-stroke:0.3px;transform:scaleX(0.9570);">1,253,391</div>
<div class="t" style="left:1047.93px;top:1216.98px;font-size:24px;color:#4e7a25;-webkit-text-stroke:0.3px;transform:scaleX(0.9843);">1</div>
<div class="t" style="left:1061.07px;top:1216.98px;font-size:24px;color:#4e7a25;-webkit-text-stroke:0.3px;transform:scaleX(0.8027);">%</div>
<div class="t" style="left:1359.82px;top:1216.98px;font-size:24px;color:#3e4f54;-webkit-text-stroke:0.3px;transform:scaleX(0.9570);">1,315,455</div>
<div class="t" style="left:1789.45px;top:1216.98px;font-size:24px;color:#3e4f54;-webkit-text-stroke:0.3px;transform:scaleX(0.9944);">66</div>
<div class="t" style="left:1857.73px;top:1216.98px;font-size:24px;color:#4e7a25;-webkit-text-stroke:0.3px;transform:scaleX(0.9843);">0</div>
<div class="t" style="left:1870.87px;top:1216.98px;font-size:24px;color:#4e7a25;-webkit-text-stroke:0.3px;transform:scaleX(0.8027);">%</div>
<div class="abs" style="left:0;top:1312px;width:3452px;height:2px;background:#e9e9ea"></div>
<div class="t" style="left:48.70px;top:1272.98px;font-size:24px;color:#2e6a9e;-webkit-text-stroke:0.3px;transform:scaleX(0.8811);">DE</div>
<div class="t" style="left:85.02px;top:1272.98px;font-size:24px;color:#3e4f54;-webkit-text-stroke:0.3px;transform:scaleX(0.9712);">Germany</div>
<div class="t" style="left:534.04px;top:1272.98px;font-size:24px;color:#ab3a52;font-weight:700;transform:scaleX(1.0618);">±2</div>
<div class="t" style="left:562.20px;top:1272.98px;font-size:24px;color:#ab3a52;font-weight:700;transform:scaleX(0.8809);">%</div>
<div class="t" style="left:921.72px;top:1272.98px;font-size:24px;color:#3e4f54;-webkit-text-stroke:0.3px;transform:scaleX(0.9714);">818,037</div>
<div class="t" style="left:1047.93px;top:1272.98px;font-size:24px;color:#4e7a25;-webkit-text-stroke:0.3px;transform:scaleX(0.9843);">1</div>
<div class="t" style="left:1061.07px;top:1272.98px;font-size:24px;color:#4e7a25;-webkit-text-stroke:0.3px;transform:scaleX(0.8027);">%</div>
<div class="t" style="left:1377.72px;top:1272.98px;font-size:24px;color:#3e4f54;-webkit-text-stroke:0.3px;transform:scaleX(0.9714);">888,592</div>
<div class="t" style="left:1789.45px;top:1272.98px;font-size:24px;color:#3e4f54;-webkit-text-stroke:0.3px;transform:scaleX(0.9944);">32</div>
<div class="t" style="left:1857.73px;top:1272.98px;font-size:24px;color:#4e7a25;-webkit-text-stroke:0.3px;transform:scaleX(0.9843);">0</div>
<div class="t" style="left:1870.87px;top:1272.98px;font-size:24px;color:#4e7a25;-webkit-text-stroke:0.3px;transform:scaleX(0.8027);">%</div>
<div class="abs" style="left:0;top:1368px;width:3452px;height:2px;background:#e9e9ea"></div>
<div class="t" style="left:48.70px;top:1328.98px;font-size:24px;color:#2e6a9e;-webkit-text-stroke:0.3px;transform:scaleX(0.8925);">BE</div>
<div class="t" style="left:84.22px;top:1328.98px;font-size:24px;color:#3e4f54;-webkit-text-stroke:0.3px;transform:scaleX(1.0038);">Belgium</div>
<div class="t" style="left:534.04px;top:1328.98px;font-size:24px;color:#ab3a52;font-weight:700;transform:scaleX(1.0618);">±2</div>
<div class="t" style="left:562.20px;top:1328.98px;font-size:24px;color:#ab3a52;font-weight:700;transform:scaleX(0.8809);">%</div>
<div class="t" style="left:921.72px;top:1328.98px;font-size:24px;color:#3e4f54;-webkit-text-stroke:0.3px;transform:scaleX(0.9714);">556,644</div>
<div class="t" style="left:1047.93px;top:1328.98px;font-size:24px;color:#4e7a25;-webkit-text-stroke:0.3px;transform:scaleX(0.9843);">1</div>
<div class="t" style="left:1061.07px;top:1328.98px;font-size:24px;color:#4e7a25;-webkit-text-stroke:0.3px;transform:scaleX(0.8027);">%</div>
<div class="t" style="left:1377.72px;top:1328.98px;font-size:24px;color:#3e4f54;-webkit-text-stroke:0.3px;transform:scaleX(0.9714);">582,002</div>
<div class="t" style="left:1789.45px;top:1328.98px;font-size:24px;color:#3e4f54;-webkit-text-stroke:0.3px;transform:scaleX(0.9944);">31</div>
<div class="t" style="left:1857.73px;top:1328.98px;font-size:24px;color:#4e7a25;-webkit-text-stroke:0.3px;transform:scaleX(0.9843);">0</div>
<div class="t" style="left:1870.87px;top:1328.98px;font-size:24px;color:#4e7a25;-webkit-text-stroke:0.3px;transform:scaleX(0.8027);">%</div>
<div class="abs" style="left:0;top:1424px;width:3452px;height:2px;background:#e9e9ea"></div>
<div class="t" style="left:48.70px;top:1384.98px;font-size:24px;color:#2e6a9e;-webkit-text-stroke:0.3px;transform:scaleX(0.8703);">ES</div>
<div class="t" style="left:83.51px;top:1384.98px;font-size:24px;color:#3e4f54;-webkit-text-stroke:0.3px;transform:scaleX(0.9747);">Spain</div>
<div class="t" style="left:534.04px;top:1384.98px;font-size:24px;color:#ab3a52;font-weight:700;transform:scaleX(1.0618);">±2</div>
<div class="t" style="left:562.20px;top:1384.98px;font-size:24px;color:#ab3a52;font-weight:700;transform:scaleX(0.8809);">%</div>
<div class="t" style="left:921.72px;top:1384.98px;font-size:24px;color:#3e4f54;-webkit-text-stroke:0.3px;transform:scaleX(0.9714);">505,674</div>
<div class="t" style="left:1047.93px;top:1384.98px;font-size:24px;color:#4e7a25;-webkit-text-stroke:0.3px;transform:scaleX(0.9843);">1</div>
<div class="t" style="left:1061.07px;top:1384.98px;font-size:24px;color:#4e7a25;-webkit-text-stroke:0.3px;transform:scaleX(0.8027);">%</div>
<div class="t" style="left:1377.72px;top:1384.98px;font-size:24px;color:#3e4f54;-webkit-text-stroke:0.3px;transform:scaleX(0.9714);">722,981</div>
<div class="t" style="left:1776.18px;top:1384.98px;font-size:24px;color:#3e4f54;-webkit-text-stroke:0.3px;transform:scaleX(0.9944);">553</div>
<div class="t" style="left:1857.73px;top:1384.98px;font-size:24px;color:#4e7a25;-webkit-text-stroke:0.3px;transform:scaleX(0.9843);">0</div>
<div class="t" style="left:1870.87px;top:1384.98px;font-size:24px;color:#4e7a25;-webkit-text-stroke:0.3px;transform:scaleX(0.8027);">%</div>
<div class="abs" style="left:0;top:1480px;width:3452px;height:2px;background:#e9e9ea"></div>
<div class="t" style="left:48.70px;top:1440.98px;font-size:24px;color:#2e6a9e;-webkit-text-stroke:0.3px;">(empty value)</div>
<div class="t" style="left:534.04px;top:1440.98px;font-size:24px;color:#ab3a52;font-weight:700;transform:scaleX(1.0618);">±4</div>
<div class="t" style="left:562.20px;top:1440.98px;font-size:24px;color:#ab3a52;font-weight:700;transform:scaleX(0.8809);">%</div>
<div class="t" style="left:921.72px;top:1440.98px;font-size:24px;color:#3e4f54;-webkit-text-stroke:0.3px;transform:scaleX(0.9918);">211,193</div>
<div class="t" style="left:1047.93px;top:1440.98px;font-size:24px;color:#4e7a25;-webkit-text-stroke:0.3px;transform:scaleX(0.9843);">0</div>
<div class="t" style="left:1061.07px;top:1440.98px;font-size:24px;color:#4e7a25;-webkit-text-stroke:0.3px;transform:scaleX(0.8027);">%</div>
<div class="t" style="left:1377.72px;top:1440.98px;font-size:24px;color:#3e4f54;-webkit-text-stroke:0.3px;transform:scaleX(0.9714);">817,215</div>
<div class="t" style="left:1758.27px;top:1440.98px;font-size:24px;color:#3e4f54;-webkit-text-stroke:0.3px;transform:scaleX(0.9612);">2,853</div>
<div class="t" style="left:1857.73px;top:1440.98px;font-size:24px;color:#4e7a25;-webkit-text-stroke:0.3px;transform:scaleX(0.9843);">0</div>
<div class="t" style="left:1870.87px;top:1440.98px;font-size:24px;color:#4e7a25;-webkit-text-stroke:0.3px;transform:scaleX(0.8027);">%</div>
<div class="abs" style="left:0;top:1536px;width:3452px;height:2px;background:#e9e9ea"></div>
<div class="t" style="left:48.70px;top:1496.98px;font-size:24px;color:#2e6a9e;-webkit-text-stroke:0.3px;">MX</div>
<div class="t" style="left:91.64px;top:1496.98px;font-size:24px;color:#3e4f54;-webkit-text-stroke:0.3px;transform:scaleX(1.0213);">Mexico</div>
<div class="t" style="left:534.04px;top:1496.98px;font-size:24px;color:#ab3a52;font-weight:700;transform:scaleX(1.0618);">±4</div>
<div class="t" style="left:562.20px;top:1496.98px;font-size:24px;color:#ab3a52;font-weight:700;transform:scaleX(0.8809);">%</div>
<div class="t" style="left:921.72px;top:1496.98px;font-size:24px;color:#3e4f54;-webkit-text-stroke:0.3px;transform:scaleX(0.9714);">200,401</div>
<div class="t" style="left:1047.93px;top:1496.98px;font-size:24px;color:#4e7a25;-webkit-text-stroke:0.3px;transform:scaleX(0.9843);">0</div>
<div class="t" style="left:1061.07px;top:1496.98px;font-size:24px;color:#4e7a25;-webkit-text-stroke:0.3px;transform:scaleX(0.8027);">%</div>
<div class="t" style="left:1377.72px;top:1496.98px;font-size:24px;color:#3e4f54;-webkit-text-stroke:0.3px;transform:scaleX(0.9714);">243,100</div>
<div class="t" style="left:1758.27px;top:1496.98px;font-size:24px;color:#3e4f54;-webkit-text-stroke:0.3px;transform:scaleX(0.9612);">3,013</div>
<div class="t" style="left:1857.73px;top:1496.98px;font-size:24px;color:#4e7a25;-webkit-text-stroke:0.3px;transform:scaleX(0.9843);">0</div>
<div class="t" style="left:1870.87px;top:1496.98px;font-size:24px;color:#4e7a25;-webkit-text-stroke:0.3px;transform:scaleX(0.8027);">%</div>
<div class="abs" style="left:0;top:1592px;width:3452px;height:2px;background:#e9e9ea"></div>
<div class="t" style="left:48.70px;top:1552.98px;font-size:24px;color:#2e6a9e;-webkit-text-stroke:0.3px;transform:scaleX(0.9358);">AU</div>
<div class="t" style="left:86.84px;top:1552.98px;font-size:24px;color:#3e4f54;-webkit-text-stroke:0.3px;transform:scaleX(1.0173);">Australia</div>
<div class="t" style="left:534.04px;top:1552.98px;font-size:24px;color:#ab3a52;font-weight:700;transform:scaleX(1.0618);">±4</div>
<div class="t" style="left:562.20px;top:1552.98px;font-size:24px;color:#ab3a52;font-weight:700;transform:scaleX(0.8809);">%</div>
<div class="t" style="left:921.72px;top:1552.98px;font-size:24px;color:#3e4f54;-webkit-text-stroke:0.3px;transform:scaleX(0.9714);">154,157</div>
<div class="t" style="left:1047.93px;top:1552.98px;font-size:24px;color:#4e7a25;-webkit-text-stroke:0.3px;transform:scaleX(0.9843);">0</div>
<div class="t" style="left:1061.07px;top:1552.98px;font-size:24px;color:#4e7a25;-webkit-text-stroke:0.3px;transform:scaleX(0.8027);">%</div>
<div class="t" style="left:1377.72px;top:1552.98px;font-size:24px;color:#3e4f54;-webkit-text-stroke:0.3px;transform:scaleX(0.9918);">311,924</div>
<div class="t" style="left:1758.27px;top:1552.98px;font-size:24px;color:#3e4f54;-webkit-text-stroke:0.3px;transform:scaleX(0.9612);">1,815</div>
<div class="t" style="left:1857.73px;top:1552.98px;font-size:24px;color:#4e7a25;-webkit-text-stroke:0.3px;transform:scaleX(0.9843);">0</div>
<div class="t" style="left:1870.87px;top:1552.98px;font-size:24px;color:#4e7a25;-webkit-text-stroke:0.3px;transform:scaleX(0.8027);">%</div>
<div class="t" style="left:2684.81px;top:1552.98px;font-size:24px;color:#3e4f54;-webkit-text-stroke:0.3px;transform:scaleX(0.9888);">126.89</div>
<div class="t" style="left:3338.38px;top:1552.98px;font-size:24px;color:#3e4f54;-webkit-text-stroke:0.3px;transform:scaleX(0.9876);">1.177</div>
<div class="t" style="left:3397.70px;top:1552.98px;font-size:24px;color:#3e4f54;-webkit-text-stroke:0.3px;transform:scaleX(0.8109);">%</div>
<div class="abs" style="left:0;top:1648px;width:3452px;height:2px;background:#e9e9ea"></div>
<div class="t" style="left:48.70px;top:1608.98px;font-size:24px;color:#2e6a9e;-webkit-text-stroke:0.3px;transform:scaleX(0.8976);">PR</div>
<div class="t" style="left:85.57px;top:1608.98px;font-size:24px;color:#3e4f54;-webkit-text-stroke:0.3px;transform:scaleX(0.9850);">Puerto Rico</div>
<div class="t" style="left:534.04px;top:1608.98px;font-size:24px;color:#ab3a52;font-weight:700;transform:scaleX(1.0618);">±5</div>
<div class="t" style="left:562.20px;top:1608.98px;font-size:24px;color:#ab3a52;font-weight:700;transform:scaleX(0.8809);">%</div>
<div class="t" style="left:921.72px;top:1608.98px;font-size:24px;color:#3e4f54;-webkit-text-stroke:0.3px;transform:scaleX(0.9714);">133,509</div>
<div class="t" style="left:1047.93px;top:1608.98px;font-size:24px;color:#4e7a25;-webkit-text-stroke:0.3px;transform:scaleX(0.9843);">0</div>
<div class="t" style="left:1061.07px;top:1608.98px;font-size:24px;color:#4e7a25;-webkit-text-stroke:0.3px;transform:scaleX(0.8027);">%</div>
<div class="t" style="left:1377.72px;top:1608.98px;font-size:24px;color:#3e4f54;-webkit-text-stroke:0.3px;transform:scaleX(0.9714);">199,065</div>
<div class="t" style="left:1758.27px;top:1608.98px;font-size:24px;color:#3e4f54;-webkit-text-stroke:0.3px;transform:scaleX(0.9612);">2,308</div>
<div class="t" style="left:1857.73px;top:1608.98px;font-size:24px;color:#4e7a25;-webkit-text-stroke:0.3px;transform:scaleX(0.9843);">0</div>
<div class="t" style="left:1870.87px;top:1608.98px;font-size:24px;color:#4e7a25;-webkit-text-stroke:0.3px;transform:scaleX(0.8027);">%</div>
<div class="t" style="left:2684.81px;top:1608.98px;font-size:24px;color:#3e4f54;-webkit-text-stroke:0.3px;transform:scaleX(0.9888);">149.00</div>
<div class="t" style="left:3338.38px;top:1608.98px;font-size:24px;color:#3e4f54;-webkit-text-stroke:0.3px;transform:scaleX(0.9876);">1.729</div>
<div class="t" style="left:3397.70px;top:1608.98px;font-size:24px;color:#3e4f54;-webkit-text-stroke:0.3px;transform:scaleX(0.8109);">%</div>
<div class="abs" style="left:0;top:1704px;width:3452px;height:2px;background:#e9e9ea"></div>
<div class="t" style="left:48.70px;top:1664.98px;font-size:24px;color:#2e6a9e;-webkit-text-stroke:0.3px;transform:scaleX(0.9790);">ZA</div>
<div class="t" style="left:85.67px;top:1664.98px;font-size:24px;color:#3e4f54;-webkit-text-stroke:0.3px;transform:scaleX(1.0175);">South Africa</div>
<div class="t" style="left:534.04px;top:1664.98px;font-size:24px;color:#ab3a52;font-weight:700;transform:scaleX(1.0618);">±5</div>
<div class="t" style="left:562.20px;top:1664.98px;font-size:24px;color:#ab3a52;font-weight:700;transform:scaleX(0.8809);">%</div>
<div class="t" style="left:921.72px;top:1664.98px;font-size:24px;color:#3e4f54;-webkit-text-stroke:0.3px;transform:scaleX(0.9714);">133,308</div>
<div class="t" style="left:1047.93px;top:1664.98px;font-size:24px;color:#4e7a25;-webkit-text-stroke:0.3px;transform:scaleX(0.9843);">0</div>
<div class="t" style="left:1061.07px;top:1664.98px;font-size:24px;color:#4e7a25;-webkit-text-stroke:0.3px;transform:scaleX(0.8027);">%</div>
<div class="t" style="left:1377.72px;top:1664.98px;font-size:24px;color:#3e4f54;-webkit-text-stroke:0.3px;transform:scaleX(0.9714);">198,873</div>
<div class="t" style="left:1758.27px;top:1664.98px;font-size:24px;color:#3e4f54;-webkit-text-stroke:0.3px;transform:scaleX(0.9612);">1,929</div>
<div class="t" style="left:1857.73px;top:1664.98px;font-size:24px;color:#4e7a25;-webkit-text-stroke:0.3px;transform:scaleX(0.9843);">0</div>
<div class="t" style="left:1870.87px;top:1664.98px;font-size:24px;color:#4e7a25;-webkit-text-stroke:0.3px;transform:scaleX(0.8027);">%</div>
<div class="t" style="left:2684.81px;top:1664.98px;font-size:24px;color:#3e4f54;-webkit-text-stroke:0.3px;transform:scaleX(1.0392);">111.30</div>
<div class="t" style="left:3338.38px;top:1664.98px;font-size:24px;color:#3e4f54;-webkit-text-stroke:0.3px;transform:scaleX(0.9876);">1.447</div>
<div class="t" style="left:3397.70px;top:1664.98px;font-size:24px;color:#3e4f54;-webkit-text-stroke:0.3px;transform:scaleX(0.8109);">%</div>
<div class="t" style="left:2217.69px;top:1664.98px;font-size:24px;color:#3e4f54;-webkit-text-stroke:0.3px;transform:scaleX(0.9876);">75.04</div>
<div class="abs" style="left:0;top:1760px;width:3452px;height:2px;background:#e9e9ea"></div>
<div class="t" style="left:48.70px;top:1720.98px;font-size:24px;color:#2e6a9e;-webkit-text-stroke:0.3px;transform:scaleX(0.8916);">BR</div>
<div class="t" style="left:85.37px;top:1720.98px;font-size:24px;color:#3e4f54;-webkit-text-stroke:0.3px;transform:scaleX(0.9944);">Brazil</div>
<div class="t" style="left:534.04px;top:1720.98px;font-size:24px;color:#ab3a52;font-weight:700;transform:scaleX(1.0618);">±5</div>
<div class="t" style="left:562.20px;top:1720.98px;font-size:24px;color:#ab3a52;font-weight:700;transform:scaleX(0.8809);">%</div>
<div class="t" style="left:935.00px;top:1720.98px;font-size:24px;color:#3e4f54;-webkit-text-stroke:0.3px;transform:scaleX(0.9672);">96,950</div>
<div class="t" style="left:1047.93px;top:1720.98px;font-size:24px;color:#4e7a25;-webkit-text-stroke:0.3px;transform:scaleX(0.9843);">0</div>
<div class="t" style="left:1061.07px;top:1720.98px;font-size:24px;color:#4e7a25;-webkit-text-stroke:0.3px;transform:scaleX(0.8027);">%</div>
<div class="t" style="left:1377.72px;top:1720.98px;font-size:24px;color:#3e4f54;-webkit-text-stroke:0.3px;transform:scaleX(0.9714);">187,128</div>
<div class="t" style="left:1776.18px;top:1720.98px;font-size:24px;color:#3e4f54;-webkit-text-stroke:0.3px;transform:scaleX(0.9944);">456</div>
<div class="t" style="left:1857.73px;top:1720.98px;font-size:24px;color:#4e7a25;-webkit-text-stroke:0.3px;transform:scaleX(0.9843);">0</div>
<div class="t" style="left:1870.87px;top:1720.98px;font-size:24px;color:#4e7a25;-webkit-text-stroke:0.3px;transform:scaleX(0.8027);">%</div>
<div class="t" style="left:2684.81px;top:1720.98px;font-size:24px;color:#3e4f54;-webkit-text-stroke:0.3px;transform:scaleX(1.0134);">112.47</div>
<div class="t" style="left:3338.38px;top:1720.98px;font-size:24px;color:#3e4f54;-webkit-text-stroke:0.3px;transform:scaleX(0.9876);">0.471</div>
<div class="t" style="left:3397.70px;top:1720.98px;font-size:24px;color:#3e4f54;-webkit-text-stroke:0.3px;transform:scaleX(0.8109);">%</div>
<div class="t" style="left:2217.69px;top:1720.98px;font-size:24px;color:#3e4f54;-webkit-text-stroke:0.3px;transform:scaleX(0.9876);">88.92</div>
<div class="abs" style="left:1940px;top:681px;width:1500px;height:872.5px;background:#fff;box-shadow:0 5px 14px rgba(0,0,0,.32);border-radius:2px 2px 8px 8px"></div>
<div class="abs" style="left:1940px;top:681px;width:1500px;height:64.7px;background:#fdf5ea;border-radius:2px 2px 0 0"></div>
<div class="t" style="left:1956.80px;top:697.71px;font-size:32px;color:#555;-webkit-text-stroke:0.3px;transform:scaleX(0.9976);">Column management</div>
<div class="abs" style="left:2295.4px;top:689.2px;width:387px;height:44.2px;border:2px solid #9a9a9a;border-radius:8px;background:#fff"></div>
<div class="t" style="left:2312.00px;top:699.50px;font-size:28px;color:#707070;-webkit-text-stroke:0.3px;transform:scaleX(0.9883);">Filter by title, id, formula, etc</div>
<div class="abs" style="left:1956px;top:764px;width:28px;height:28px;border:4px solid #757575;border-radius:5px;background:#fff"></div>
<div class="t" style="left:2002.80px;top:765.89px;font-size:26px;color:#3e4f54;-webkit-text-stroke:0.3px;transform:scaleX(0.9940);">Audience</div>
<svg class="abs" style="left:1956px;top:820px" width="36" height="36" viewBox="0 0 36 36"><rect x="0" y="0" width="36" height="36" rx="4.5" fill="#6aa1c8"/><path d="M5.6 20.6 L13.3 27.6 L30.4 10" fill="none" stroke="#fff" stroke-width="4.2"/></svg>
<div class="t" style="left:2002.80px;top:821.89px;font-size:26px;color:#3e4f54;-webkit-text-stroke:0.3px;transform:scaleX(1.0268);">Imps</div>
<svg class="abs" style="left:1956px;top:876px" width="36" height="36" viewBox="0 0 36 36"><rect x="0" y="0" width="36" height="36" rx="4.5" fill="#6aa1c8"/><path d="M5.6 20.6 L13.3 27.6 L30.4 10" fill="none" stroke="#fff" stroke-width="4.2"/></svg>
<div class="t" style="left:2002.80px;top:877.89px;font-size:26px;color:#3e4f54;-webkit-text-stroke:0.3px;">Bids</div>
<svg class="abs" style="left:1956px;top:932px" width="36" height="36" viewBox="0 0 36 36"><rect x="0" y="0" width="36" height="36" rx="4.5" fill="#6aa1c8"/><path d="M5.6 20.6 L13.3 27.6 L30.4 10" fill="none" stroke="#fff" stroke-width="4.2"/></svg>
<div class="t" style="left:2002.80px;top:933.89px;font-size:26px;color:#3e4f54;-webkit-text-stroke:0.3px;transform:scaleX(1.0062);">Clicks</div>
<svg class="abs" style="left:1956px;top:988px" width="36" height="36" viewBox="0 0 36 36"><rect x="0" y="0" width="36" height="36" rx="4.5" fill="#6aa1c8"/><path d="M5.6 20.6 L13.3 27.6 L30.4 10" fill="none" stroke="#fff" stroke-width="4.2"/></svg>
<div class="t" style="left:2002.80px;top:989.89px;font-size:26px;color:#3e4f54;-webkit-text-stroke:0.3px;transform:scaleX(1.0038);">Cost</div>
<div class="abs" style="left:1956px;top:1044px;width:28px;height:28px;border:4px solid #757575;border-radius:5px;background:#fff"></div>
<div class="t" style="left:2002.80px;top:1045.89px;font-size:26px;color:#3e4f54;-webkit-text-stroke:0.3px;transform:scaleX(0.9888);">Adv Cost</div>
<div class="abs" style="left:1956px;top:1100px;width:28px;height:28px;border:4px solid #757575;border-radius:5px;background:#fff"></div>
<div class="t" style="left:2002.80px;top:1101.89px;font-size:26px;color:#3e4f54;-webkit-text-stroke:0.3px;transform:scaleX(0.9891);">Bid</div>
<svg class="abs" style="left:1956px;top:1156px" width="36" height="36" viewBox="0 0 36 36"><rect x="0" y="0" width="36" height="36" rx="4.5" fill="#6aa1c8"/><path d="M5.6 20.6 L13.3 27.6 L30.4 10" fill="none" stroke="#fff" stroke-width="4.2"/></svg>
<div class="t" style="left:2002.80px;top:1157.89px;font-size:26px;color:#3e4f54;-webkit-text-stroke:0.3px;transform:scaleX(0.9070);">CTR</div>
<div class="t" style="left:2061.86px;top:1157.41px;font-size:23.5px;color:#939393;font-style:italic;-webkit-text-stroke:0.3px;transform:scaleX(0.9608);">f(x)</div>
<svg class="abs" style="left:2172.6px;top:1154.9px" width="26" height="26" viewBox="0 0 26 26"><path fill-rule="evenodd" fill="#666" d="M0.5 18.3 L17.3 1.5 Q19.3 -0.5 21.3 1.5 L23.2 3.4 Q25.2 5.4 23.2 7.4 L6.3 24.2 L0.5 24.2 Z M3.1 19.4 L15.54 6.94 L17.7 9.1 L5.22 21.6 L3.1 21.6 Z"/></svg>
<svg class="abs" style="left:2206.6px;top:1155.0px" width="22" height="25" viewBox="0 0 22 25"><rect x="7.2" y="0" width="7.6" height="2.4" fill="#666"/><rect x="0" y="1.3" width="22" height="2.6" fill="#666"/><path d="M2.8 3.5 V20.3 a2.6 2.6 0 0 0 2.6 2.6 H16.6 a2.6 2.6 0 0 0 2.6 -2.6 V3.5" fill="none" stroke="#666" stroke-width="2.6"/><rect x="7.2" y="7" width="2.3" height="11.4" fill="#666"/><rect x="12.6" y="7" width="2.3" height="11.4" fill="#666"/></svg>
<div class="abs" style="left:1956px;top:1212px;width:28px;height:28px;border:4px solid #757575;border-radius:5px;background:#fff"></div>
<div class="t" style="left:2002.80px;top:1213.89px;font-size:26px;color:#3e4f54;-webkit-text-stroke:0.3px;transform:scaleX(1.0170);">First</div>
<div class="t" style="left:2064.80px;top:1213.41px;font-size:23.5px;color:#939393;font-style:italic;-webkit-text-stroke:0.3px;transform:scaleX(0.9608);">f(x)</div>
<svg class="abs" style="left:2172.6px;top:1210.9px" width="26" height="26" viewBox="0 0 26 26"><path fill-rule="evenodd" fill="#666" d="M0.5 18.3 L17.3 1.5 Q19.3 -0.5 21.3 1.5 L23.2 3.4 Q25.2 5.4 23.2 7.4 L6.3 24.2 L0.5 24.2 Z M3.1 19.4 L15.54 6.94 L17.7 9.1 L5.22 21.6 L3.1 21.6 Z"/></svg>
<svg class="abs" style="left:2206.6px;top:1211.0px" width="22" height="25" viewBox="0 0 22 25"><rect x="7.2" y="0" width="7.6" height="2.4" fill="#666"/><rect x="0" y="1.3" width="22" height="2.6" fill="#666"/><path d="M2.8 3.5 V20.3 a2.6 2.6 0 0 0 2.6 2.6 H16.6 a2.6 2.6 0 0 0 2.6 -2.6 V3.5" fill="none" stroke="#666" stroke-width="2.6"/><rect x="7.2" y="7" width="2.3" height="11.4" fill="#666"/><rect x="12.6" y="7" width="2.3" height="11.4" fill="#666"/></svg>
<div class="abs" style="left:1956px;top:1268px;width:28px;height:28px;border:4px solid #757575;border-radius:5px;background:#fff"></div>
<div class="t" style="left:2002.80px;top:1269.89px;font-size:26px;color:#3e4f54;-webkit-text-stroke:0.3px;transform:scaleX(1.0525);">Timeshift</div>
<div class="t" style="left:2123.38px;top:1269.41px;font-size:23.5px;color:#939393;font-style:italic;-webkit-text-stroke:0.3px;transform:scaleX(0.9608);">f(x)</div>
<svg class="abs" style="left:2172.6px;top:1266.9px" width="26" height="26" viewBox="0 0 26 26"><path fill-rule="evenodd" fill="#666" d="M0.5 18.3 L17.3 1.5 Q19.3 -0.5 21.3 1.5 L23.2 3.4 Q25.2 5.4 23.2 7.4 L6.3 24.2 L0.5 24.2 Z M3.1 19.4 L15.54 6.94 L17.7 9.1 L5.22 21.6 L3.1 21.6 Z"/></svg>
<svg class="abs" style="left:2206.6px;top:1267.0px" width="22" height="25" viewBox="0 0 22 25"><rect x="7.2" y="0" width="7.6" height="2.4" fill="#666"/><rect x="0" y="1.3" width="22" height="2.6" fill="#666"/><path d="M2.8 3.5 V20.3 a2.6 2.6 0 0 0 2.6 2.6 H16.6 a2.6 2.6 0 0 0 2.6 -2.6 V3.5" fill="none" stroke="#666" stroke-width="2.6"/><rect x="7.2" y="7" width="2.3" height="11.4" fill="#666"/><rect x="12.6" y="7" width="2.3" height="11.4" fill="#666"/></svg>
<div class="abs" style="left:1956px;top:1324px;width:28px;height:28px;border:4px solid #757575;border-radius:5px;background:#fff"></div>
<div class="t" style="left:2002.80px;top:1325.89px;font-size:26px;color:#3e4f54;-webkit-text-stroke:0.3px;transform:scaleX(1.0184);">Last</div>
<div class="t" style="left:2063.45px;top:1325.41px;font-size:23.5px;color:#939393;font-style:italic;-webkit-text-stroke:0.3px;transform:scaleX(0.9608);">f(x)</div>
<svg class="abs" style="left:2172.6px;top:1322.9px" width="26" height="26" viewBox="0 0 26 26"><path fill-rule="evenodd" fill="#666" d="M0.5 18.3 L17.3 1.5 Q19.3 -0.5 21.3 1.5 L23.2 3.4 Q25.2 5.4 23.2 7.4 L6.3 24.2 L0.5 24.2 Z M3.1 19.4 L15.54 6.94 L17.7 9.1 L5.22 21.6 L3.1 21.6 Z"/></svg>
<svg class="abs" style="left:2206.6px;top:1323.0px" width="22" height="25" viewBox="0 0 22 25"><rect x="7.2" y="0" width="7.6" height="2.4" fill="#666"/><rect x="0" y="1.3" width="22" height="2.6" fill="#666"/><path d="M2.8 3.5 V20.3 a2.6 2.6 0 0 0 2.6 2.6 H16.6 a2.6 2.6 0 0 0 2.6 -2.6 V3.5" fill="none" stroke="#666" stroke-width="2.6"/><rect x="7.2" y="7" width="2.3" height="11.4" fill="#666"/><rect x="12.6" y="7" width="2.3" height="11.4" fill="#666"/></svg>
<div class="abs" style="left:1956px;top:1380px;width:28px;height:28px;border:4px solid #757575;border-radius:5px;background:#fff"></div>
<div class="t" style="left:2002.80px;top:1381.89px;font-size:26px;color:#3e4f54;-webkit-text-stroke:0.3px;transform:scaleX(0.9284);">IF</div>
<div class="t" style="left:2034.85px;top:1381.41px;font-size:23.5px;color:#939393;font-style:italic;-webkit-text-stroke:0.3px;transform:scaleX(0.9608);">f(x)</div>
<svg class="abs" style="left:2172.6px;top:1378.9px" width="26" height="26" viewBox="0 0 26 26"><path fill-rule="evenodd" fill="#666" d="M0.5 18.3 L17.3 1.5 Q19.3 -0.5 21.3 1.5 L23.2 3.4 Q25.2 5.4 23.2 7.4 L6.3 24.2 L0.5 24.2 Z M3.1 19.4 L15.54 6.94 L17.7 9.1 L5.22 21.6 L3.1 21.6 Z"/></svg>
<svg class="abs" style="left:2206.6px;top:1379.0px" width="22" height="25" viewBox="0 0 22 25"><rect x="7.2" y="0" width="7.6" height="2.4" fill="#666"/><rect x="0" y="1.3" width="22" height="2.6" fill="#666"/><path d="M2.8 3.5 V20.3 a2.6 2.6 0 0 0 2.6 2.6 H16.6 a2.6 2.6 0 0 0 2.6 -2.6 V3.5" fill="none" stroke="#666" stroke-width="2.6"/><rect x="7.2" y="7" width="2.3" height="11.4" fill="#666"/><rect x="12.6" y="7" width="2.3" height="11.4" fill="#666"/></svg>
<div class="abs" style="left:2268px;top:764px;width:28px;height:28px;border:4px solid #757575;border-radius:5px;background:#fff"></div>
<div class="t" style="left:2314.40px;top:765.89px;font-size:26px;color:#3e4f54;-webkit-text-stroke:0.3px;transform:scaleX(1.0051);">calculated_mapping</div>
<div class="t" style="left:2557.47px;top:765.41px;font-size:23.5px;color:#939393;font-style:italic;-webkit-text-stroke:0.3px;transform:scaleX(0.9608);">f(x)</div>
<svg class="abs" style="left:2607.2px;top:762.9px" width="26" height="26" viewBox="0 0 26 26"><path fill-rule="evenodd" fill="#666" d="M0.5 18.3 L17.3 1.5 Q19.3 -0.5 21.3 1.5 L23.2 3.4 Q25.2 5.4 23.2 7.4 L6.3 24.2 L0.5 24.2 Z M3.1 19.4 L15.54 6.94 L17.7 9.1 L5.22 21.6 L3.1 21.6 Z"/></svg>
<svg class="abs" style="left:2640.8px;top:763.0px" width="22" height="25" viewBox="0 0 22 25"><rect x="7.2" y="0" width="7.6" height="2.4" fill="#666"/><rect x="0" y="1.3" width="22" height="2.6" fill="#666"/><path d="M2.8 3.5 V20.3 a2.6 2.6 0 0 0 2.6 2.6 H16.6 a2.6 2.6 0 0 0 2.6 -2.6 V3.5" fill="none" stroke="#666" stroke-width="2.6"/><rect x="7.2" y="7" width="2.3" height="11.4" fill="#666"/><rect x="12.6" y="7" width="2.3" height="11.4" fill="#666"/></svg>
<div class="abs" style="left:2268px;top:820px;width:28px;height:28px;border:4px solid #757575;border-radius:5px;background:#fff"></div>
<div class="t" style="left:2314.40px;top:821.89px;font-size:26px;color:#3e4f54;-webkit-text-stroke:0.3px;transform:scaleX(0.9810);">Rows</div>
<div class="t" style="left:2388.78px;top:821.41px;font-size:23.5px;color:#939393;font-style:italic;-webkit-text-stroke:0.3px;transform:scaleX(0.9608);">f(x)</div>
<svg class="abs" style="left:2607.2px;top:818.9px" width="26" height="26" viewBox="0 0 26 26"><path fill-rule="evenodd" fill="#666" d="M0.5 18.3 L17.3 1.5 Q19.3 -0.5 21.3 1.5 L23.2 3.4 Q25.2 5.4 23.2 7.4 L6.3 24.2 L0.5 24.2 Z M3.1 19.4 L15.54 6.94 L17.7 9.1 L5.22 21.6 L3.1 21.6 Z"/></svg>
<svg class="abs" style="left:2640.8px;top:819.0px" width="22" height="25" viewBox="0 0 22 25"><rect x="7.2" y="0" width="7.6" height="2.4" fill="#666"/><rect x="0" y="1.3" width="22" height="2.6" fill="#666"/><path d="M2.8 3.5 V20.3 a2.6 2.6 0 0 0 2.6 2.6 H16.6 a2.6 2.6 0 0 0 2.6 -2.6 V3.5" fill="none" stroke="#666" stroke-width="2.6"/><rect x="7.2" y="7" width="2.3" height="11.4" fill="#666"/><rect x="12.6" y="7" width="2.3" height="11.4" fill="#666"/></svg>
<div class="abs" style="left:2268px;top:876px;width:28px;height:28px;border:4px solid #757575;border-radius:5px;background:#fff"></div>
<div class="t" style="left:2314.40px;top:877.89px;font-size:26px;color:#3e4f54;-webkit-text-stroke:0.3px;transform:scaleX(0.9529);">eeee</div>
<div class="t" style="left:2380.12px;top:877.41px;font-size:23.5px;color:#939393;font-style:italic;-webkit-text-stroke:0.3px;transform:scaleX(0.9608);">f(x)</div>
<svg class="abs" style="left:2607.2px;top:874.9px" width="26" height="26" viewBox="0 0 26 26"><path fill-rule="evenodd" fill="#666" d="M0.5 18.3 L17.3 1.5 Q19.3 -0.5 21.3 1.5 L23.2 3.4 Q25.2 5.4 23.2 7.4 L6.3 24.2 L0.5 24.2 Z M3.1 19.4 L15.54 6.94 L17.7 9.1 L5.22 21.6 L3.1 21.6 Z"/></svg>
<svg class="abs" style="left:2640.8px;top:875.0px" width="22" height="25" viewBox="0 0 22 25"><rect x="7.2" y="0" width="7.6" height="2.4" fill="#666"/><rect x="0" y="1.3" width="22" height="2.6" fill="#666"/><path d="M2.8 3.5 V20.3 a2.6 2.6 0 0 0 2.6 2.6 H16.6 a2.6 2.6 0 0 0 2.6 -2.6 V3.5" fill="none" stroke="#666" stroke-width="2.6"/><rect x="7.2" y="7" width="2.3" height="11.4" fill="#666"/><rect x="12.6" y="7" width="2.3" height="11.4" fill="#666"/></svg>
<div class="abs" style="left:2268px;top:932px;width:28px;height:28px;border:4px solid #757575;border-radius:5px;background:#fff"></div>
<div class="t" style="left:2314.40px;top:933.89px;font-size:26px;color:#3e4f54;-webkit-text-stroke:0.3px;transform:scaleX(0.9924);">Number of Days</div>
<div class="t" style="left:2511.43px;top:933.41px;font-size:23.5px;color:#939393;font-style:italic;-webkit-text-stroke:0.3px;transform:scaleX(0.9608);">f(x)</div>
<svg class="abs" style="left:2607.2px;top:930.9px" width="26" height="26" viewBox="0 0 26 26"><path fill-rule="evenodd" fill="#666" d="M0.5 18.3 L17.3 1.5 Q19.3 -0.5 21.3 1.5 L23.2 3.4 Q25.2 5.4 23.2 7.4 L6.3 24.2 L0.5 24.2 Z M3.1 19.4 L15.54 6.94 L17.7 9.1 L5.22 21.6 L3.1 21.6 Z"/></svg>
<svg class="abs" style="left:2640.8px;top:931.0px" width="22" height="25" viewBox="0 0 22 25"><rect x="7.2" y="0" width="7.6" height="2.4" fill="#666"/><rect x="0" y="1.3" width="22" height="2.6" fill="#666"/><path d="M2.8 3.5 V20.3 a2.6 2.6 0 0 0 2.6 2.6 H16.6 a2.6 2.6 0 0 0 2.6 -2.6 V3.5" fill="none" stroke="#666" stroke-width="2.6"/><rect x="7.2" y="7" width="2.3" height="11.4" fill="#666"/><rect x="12.6" y="7" width="2.3" height="11.4" fill="#666"/></svg>
<div class="abs" style="left:2268px;top:988px;width:28px;height:28px;border:4px solid #757575;border-radius:5px;background:#fff"></div>
<div class="t" style="left:2314.40px;top:989.89px;font-size:26px;color:#3e4f54;-webkit-text-stroke:0.3px;transform:scaleX(0.9521);">Days Range</div>
<div class="t" style="left:2461.23px;top:989.41px;font-size:23.5px;color:#939393;font-style:italic;-webkit-text-stroke:0.3px;transform:scaleX(0.9608);">f(x)</div>
<svg class="abs" style="left:2607.2px;top:986.9px" width="26" height="26" viewBox="0 0 26 26"><path fill-rule="evenodd" fill="#666" d="M0.5 18.3 L17.3 1.5 Q19.3 -0.5 21.3 1.5 L23.2 3.4 Q25.2 5.4 23.2 7.4 L6.3 24.2 L0.5 24.2 Z M3.1 19.4 L15.54 6.94 L17.7 9.1 L5.22 21.6 L3.1 21.6 Z"/></svg>
<svg class="abs" style="left:2640.8px;top:987.0px" width="22" height="25" viewBox="0 0 22 25"><rect x="7.2" y="0" width="7.6" height="2.4" fill="#666"/><rect x="0" y="1.3" width="22" height="2.6" fill="#666"/><path d="M2.8 3.5 V20.3 a2.6 2.6 0 0 0 2.6 2.6 H16.6 a2.6 2.6 0 0 0 2.6 -2.6 V3.5" fill="none" stroke="#666" stroke-width="2.6"/><rect x="7.2" y="7" width="2.3" height="11.4" fill="#666"/><rect x="12.6" y="7" width="2.3" height="11.4" fill="#666"/></svg>
<div class="abs" style="left:2268px;top:1044px;width:28px;height:28px;border:4px solid #757575;border-radius:5px;background:#fff"></div>
<div class="t" style="left:2314.40px;top:1045.89px;font-size:26px;color:#3e4f54;-webkit-text-stroke:0.3px;transform:scaleX(1.0339);">If in If</div>
<div class="t" style="left:2390.73px;top:1045.41px;font-size:23.5px;color:#939393;font-style:italic;-webkit-text-stroke:0.3px;transform:scaleX(0.9608);">f(x)</div>
<svg class="abs" style="left:2607.2px;top:1042.9px" width="26" height="26" viewBox="0 0 26 26"><path fill-rule="evenodd" fill="#666" d="M0.5 18.3 L17.3 1.5 Q19.3 -0.5 21.3 1.5 L23.2 3.4 Q25.2 5.4 23.2 7.4 L6.3 24.2 L0.5 24.2 Z M3.1 19.4 L15.54 6.94 L17.7 9.1 L5.22 21.6 L3.1 21.6 Z"/></svg>
<svg class="abs" style="left:2640.8px;top:1043.0px" width="22" height="25" viewBox="0 0 22 25"><rect x="7.2" y="0" width="7.6" height="2.4" fill="#666"/><rect x="0" y="1.3" width="22" height="2.6" fill="#666"/><path d="M2.8 3.5 V20.3 a2.6 2.6 0 0 0 2.6 2.6 H16.6 a2.6 2.6 0 0 0 2.6 -2.6 V3.5" fill="none" stroke="#666" stroke-width="2.6"/><rect x="7.2" y="7" width="2.3" height="11.4" fill="#666"/><rect x="12.6" y="7" width="2.3" height="11.4" fill="#666"/></svg>
<div class="abs" style="left:2268px;top:1100px;width:28px;height:28px;border:4px solid #757575;border-radius:5px;background:#fff"></div>
<div class="t" style="left:2314.40px;top:1101.89px;font-size:26px;color:#3e4f54;-webkit-text-stroke:0.3px;transform:scaleX(0.9907);">u</div>
<div class="t" style="left:2339.33px;top:1101.41px;font-size:23.5px;color:#939393;font-style:italic;-webkit-text-stroke:0.3px;transform:scaleX(0.9608);">f(x)</div>
<svg class="abs" style="left:2607.2px;top:1098.9px" width="26" height="26" viewBox="0 0 26 26"><path fill-rule="evenodd" fill="#666" d="M0.5 18.3 L17.3 1.5 Q19.3 -0.5 21.3 1.5 L23.2 3.4 Q25.2 5.4 23.2 7.4 L6.3 24.2 L0.5 24.2 Z M3.1 19.4 L15.54 6.94 L17.7 9.1 L5.22 21.6 L3.1 21.6 Z"/></svg>
<svg class="abs" style="left:2640.8px;top:1099.0px" width="22" height="25" viewBox="0 0 22 25"><rect x="7.2" y="0" width="7.6" height="2.4" fill="#666"/><rect x="0" y="1.3" width="22" height="2.6" fill="#666"/><path d="M2.8 3.5 V20.3 a2.6 2.6 0 0 0 2.6 2.6 H16.6 a2.6 2.6 0 0 0 2.6 -2.6 V3.5" fill="none" stroke="#666" stroke-width="2.6"/><rect x="7.2" y="7" width="2.3" height="11.4" fill="#666"/><rect x="12.6" y="7" width="2.3" height="11.4" fill="#666"/></svg>
<div class="abs" style="left:2268px;top:1156px;width:28px;height:28px;border:4px solid #757575;border-radius:5px;background:#fff"></div>
<div class="t" style="left:2314.40px;top:1157.89px;font-size:26px;color:#3e4f54;-webkit-text-stroke:0.3px;transform:scaleX(1.0249);">o</div>
<div class="t" style="left:2339.82px;top:1157.41px;font-size:23.5px;color:#939393;font-style:italic;-webkit-text-stroke:0.3px;transform:scaleX(0.9608);">f(x)</div>
<svg class="abs" style="left:2607.2px;top:1154.9px" width="26" height="26" viewBox="0 0 26 26"><path fill-rule="evenodd" fill="#666" d="M0.5 18.3 L17.3 1.5 Q19.3 -0.5 21.3 1.5 L23.2 3.4 Q25.2 5.4 23.2 7.4 L6.3 24.2 L0.5 24.2 Z M3.1 19.4 L15.54 6.94 L17.7 9.1 L5.22 21.6 L3.1 21.6 Z"/></svg>
<svg class="abs" style="left:2640.8px;top:1155.0px" width="22" height="25" viewBox="0 0 22 25"><rect x="7.2" y="0" width="7.6" height="2.4" fill="#666"/><rect x="0" y="1.3" width="22" height="2.6" fill="#666"/><path d="M2.8 3.5 V20.3 a2.6 2.6 0 0 0 2.6 2.6 H16.6 a2.6 2.6 0 0 0 2.6 -2.6 V3.5" fill="none" stroke="#666" stroke-width="2.6"/><rect x="7.2" y="7" width="2.3" height="11.4" fill="#666"/><rect x="12.6" y="7" width="2.3" height="11.4" fill="#666"/></svg>
<div class="abs" style="left:1958px;top:1492.6px;width:28px;height:28px;border:4px solid #757575;border-radius:5px;background:#fff"></div>
<div class="t" style="left:2004.50px;top:1497.59px;font-size:26px;color:#4a5a5e;-webkit-text-stroke:0.3px;transform:scaleX(0.9810);">Select all</div>
<div class="t" style="left:2140.50px;top:1496.19px;font-size:26px;color:#3e4f54;-webkit-text-stroke:0.3px;transform:scaleX(1.0077);">System default</div>
<div class="abs" style="left:2140.5px;top:1529px;width:173.3px;height:0;border-top:2px dashed #3e4f54"></div>
<div class="t" style="left:2349.20px;top:1496.19px;font-size:26px;color:#3e4f54;-webkit-text-stroke:0.3px;">User settings</div>
<div class="abs" style="left:2349.2px;top:1529px;width:151.5px;height:0;border-top:2px dashed #3e4f54"></div>
<div class="t" style="left:2533.40px;top:1496.19px;font-size:26px;color:#3e4f54;-webkit-text-stroke:0.3px;transform:scaleX(0.9904);">Field sets</div>
<div class="abs" style="left:2533.4px;top:1529px;width:110.2px;height:0;border-top:2px dashed #3e4f54"></div>
<div class="t" style="left:2328.50px;top:1496.18px;font-size:24px;color:#3e4f54;-webkit-text-stroke:0.3px;">|</div>
<svg class="abs" style="left:2650.5px;top:1502px" width="20" height="18" viewBox="0 0 20 18"><path d="M3 5.6 L10 12.6 L17 5.6" fill="none" stroke="#3e4f54" stroke-width="2.6"/></svg>
<div class="t" style="left:2709.00px;top:1496.49px;font-size:26px;color:#3e4f54;-webkit-text-stroke:0.3px;transform:scaleX(1.0473);">5/20</div>
<div class="abs" style="left:2928px;top:1482px;width:215.8px;height:55.4px;background:#fff;border-radius:9px;box-shadow:0 2px 5px rgba(0,0,0,.28),0 0 1.5px rgba(0,0,0,.07)"></div>
<div class="t" style="left:2952.00px;top:1495.99px;font-size:26px;color:#3e4f54;-webkit-text-stroke:0.3px;transform:scaleX(0.9889);">Create column</div>
<div class="abs" style="left:3160px;top:1482px;width:112.7px;height:55.4px;background:#4f8fc0;border-radius:9px;box-shadow:0 2px 5px rgba(0,0,0,.28),0 0 1.5px rgba(0,0,0,.07)"></div>
<div class="t" style="left:3184.20px;top:1495.99px;font-size:26px;color:#fff;-webkit-text-stroke:0.3px;transform:scaleX(0.9871);">Apply</div>
<div class="abs" style="left:3289px;top:1482px;width:127px;height:55.4px;background:#fff;border-radius:9px;box-shadow:0 2px 5px rgba(0,0,0,.28),0 0 1.5px rgba(0,0,0,.07)"></div>
<div class="t" style="left:3313.00px;top:1495.99px;font-size:26px;color:#3e4f54;-webkit-text-stroke:0.3px;transform:scaleX(0.9674);">Cancel</div>
<div class="abs" style="left:1940px;top:1531px;width:735.6px;height:152px;background:#fff;box-shadow:0 5px 14px rgba(0,0,0,.33)"></div>
<div class="t" style="left:1973.40px;top:1545.29px;font-size:26px;color:#a2a2a2;-webkit-text-stroke:0.3px;transform:scaleX(1.0607);">Please enter a field set name</div>
<div class="abs" style="left:1964px;top:1575px;width:584px;height:4px;background:#ac384d"></div>
<div class="abs" style="left:2563.8px;top:1539.4px;width:40px;height:39.4px;background:#e8e9e9;border-radius:8px"></div>
<svg class="abs" style="left:2563.8px;top:1539.4px" width="40" height="40" viewBox="0 0 40 40"><path d="M8.2 20.4 L16.4 27.8 L33 10.8" fill="none" stroke="#869190" stroke-width="3.4"/></svg>
<div class="abs" style="left:2612px;top:1539.4px;width:39.4px;height:39.4px;background:#fff;border-radius:8px;box-shadow:0 2px 5px rgba(0,0,0,.28),0 0 1.5px rgba(0,0,0,.07)"></div>
<svg class="abs" style="left:2612px;top:1539.4px" width="40" height="40" viewBox="0 0 40 40"><path d="M9.6 9.4 L30 29.8 M30 9.4 L9.6 29.8" fill="none" stroke="#3e4f54" stroke-width="3"/></svg>
<div class="abs" style="left:2431px;top:1610.8px;width:221px;height:56px;background:#fff;border-radius:9px;box-shadow:0 2px 5px rgba(0,0,0,.28),0 0 1.5px rgba(0,0,0,.07)"></div>
<div class="t" style="left:2455.70px;top:1625.49px;font-size:26px;color:#3e4f54;-webkit-text-stroke:0.3px;transform:scaleX(0.9853);">Create field set</div>
</div></body></html>
